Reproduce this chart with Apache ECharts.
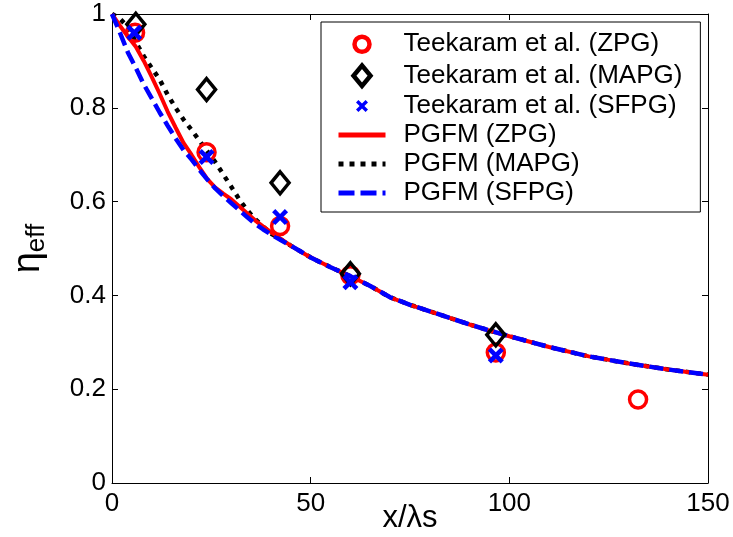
<!DOCTYPE html>
<html>
<head>
<meta charset="utf-8">
<script src="https://cdn.jsdelivr.net/npm/echarts@6/dist/echarts.min.js"></script>
<style>html,body{margin:0;padding:0;background:#fff;}#c{width:733px;height:537px;}</style>
</head>
<body>
<div id="c"></div>
<script>
// ---- data ----
var zpgPts  = [[5.8,0.96],[23.8,0.705],[42.3,0.548],[60,0.443],[96.6,0.278],[132.4,0.178]];
var mapgPts = [[6,0.978],[23.8,0.839],[42.3,0.64],[60,0.446],[96.6,0.316]];
var sfpgPts = [[5.6,0.96],[23.8,0.695],[42.3,0.567],[60,0.428],[96.6,0.272]];

var lineX    = [0,2,4,6,8,10,12,14,16,18,20,22,24,26,28,30,32,34,36,38,40,45,50,55,60,65,70,75,80,85,90,95,100,110,120,130,140,150];
var pgfmZpg  = [1,0.975,0.952,0.93,0.9,0.866,0.83,0.792,0.758,0.725,0.70,0.673,0.648,0.63,0.617,0.605,0.59,0.575,0.56,0.547,0.535,0.506,0.481,0.46,0.441,0.42,0.396,0.38,0.366,0.352,0.338,0.325,0.313,0.29,0.27,0.255,0.242,0.231];
var pgfmMapg = [1,0.99,0.972,0.94,0.91,0.885,0.86,0.828,0.80,0.775,0.753,0.73,0.707,0.684,0.658,0.632,0.605,0.582,0.563,0.547,0.532,0.506,0.481,0.46,0.441,0.42,0.396,0.38,0.366,0.352,0.338,0.325,0.313,0.29,0.27,0.255,0.242,0.231];
var pgfmSfpg = [1,0.96,0.918,0.885,0.85,0.82,0.79,0.762,0.735,0.71,0.69,0.668,0.647,0.628,0.612,0.597,0.582,0.567,0.553,0.541,0.53,0.506,0.481,0.46,0.441,0.42,0.396,0.38,0.366,0.352,0.338,0.325,0.313,0.29,0.27,0.255,0.242,0.231];

var seriesNames = ['Teekaram et al. (ZPG)','Teekaram et al. (MAPG)','Teekaram et al. (SFPG)','PGFM (ZPG)','PGFM (MAPG)','PGFM (SFPG)'];
var xTicks = [0,50,100,150];
var yTicks = [0,0.2,0.4,0.6,0.8,1];

function zip(xs, ys){ return xs.map(function(x,i){ return [x, ys[i]]; }); }

var FONT = 'Liberation Sans, Arial, sans-serif';
var xMark = 'path://M2,0 L5,3 L8,0 L10,2 L7,5 L10,8 L8,10 L5,7 L2,10 L0,8 L3,5 L0,2 Z';
// legend icons (padded to a 24x24 box so they keep their size)
var circleIcon  = 'path://M0,0 M24,24 M4.5,12 A7.5,7.5 0 1 1 19.5,12 A7.5,7.5 0 1 1 4.5,12 Z';
var diamondIcon = 'path://M0,0 M24,24 M12,1.8 L20.5,12 L12,22.2 L3.5,12 Z';
var xIcon = 'path://M0,0 M24,24 M8.4,6 L12,9.6 L15.6,6 L18,8.4 L14.4,12 L18,15.6 L15.6,18 L12,14.4 L8.4,18 L6,15.6 L9.6,12 L6,8.4 Z';

function axisCommon(){
  return {
    axisLine:{show:true, onZero:false, lineStyle:{color:'#000', width:1}},
    axisTick:{show:true, inside:true, length:6, lineStyle:{color:'#000', width:1}},
    splitLine:{show:false}
  };
}
var noSym = {color:'rgba(0,0,0,0)', borderColor:'rgba(0,0,0,0)', borderWidth:0};

var chart = echarts.init(document.getElementById('c'), null, {renderer:'canvas'});
chart.setOption({
  backgroundColor:'#fff',
  animation:false,
  grid:{left:112, right:25, top:14, bottom:54, containLabel:false, outerBoundsMode:'none'},
  legend:{
    orient:'vertical', left:321, top:22,
    backgroundColor:'#fff', borderColor:'#000', borderWidth:1, borderRadius:0,
    padding:[8,18,6,15], itemGap:3, itemWidth:47, itemHeight:24,
    textStyle:{fontFamily:FONT, fontSize:26, color:'#000', padding:[0,0,0,13]},
    data:[
      {name:seriesNames[0], icon:circleIcon, itemStyle:{color:'rgba(0,0,0,0)', borderColor:'#ff0000', borderWidth:4.5}},
      {name:seriesNames[1], icon:diamondIcon, itemStyle:{color:'rgba(0,0,0,0)', borderColor:'#000', borderWidth:4.5}},
      {name:seriesNames[2], icon:xIcon, itemStyle:{color:'#0000ff', borderWidth:0}},
      {name:seriesNames[3], itemStyle:noSym, lineStyle:{width:5}},
      {name:seriesNames[4], itemStyle:noSym, lineStyle:{width:5, type:[5,6]}},
      {name:seriesNames[5], itemStyle:noSym, lineStyle:{width:5, type:[16,6]}}
    ]
  },
  xAxis:[
    Object.assign({type:'value', min:0, max:150, interval:50, position:'bottom',
      name:'x/λs', nameLocation:'middle', nameGap:20, nameMoveOverlap:false,
      nameTextStyle:{fontFamily:FONT, fontSize:31, color:'#000'},
      axisLabel:{fontFamily:FONT, fontSize:26, color:'#000', margin:8}}, axisCommon()),
    Object.assign({type:'value', min:0, max:150, interval:50, position:'top',
      axisLabel:{show:false}}, axisCommon())
  ],
  yAxis:[
    Object.assign({type:'value', min:0, max:1, interval:0.2, position:'left',
      name:'{a|η}{b|eff}', nameLocation:'middle', nameGap:62, nameRotate:90, nameMoveOverlap:false,
      nameTextStyle:{fontFamily:FONT, color:'#000',
        rich:{a:{fontFamily:FONT, fontSize:38, color:'#000'},
              b:{fontFamily:FONT, fontSize:26, color:'#000', padding:[16,0,0,0]}}},
      axisLabel:{fontFamily:FONT, fontSize:26, color:'#000', margin:6,
        formatter:function(v){ return String(Math.round(v*10)/10); }}}, axisCommon()),
    Object.assign({type:'value', min:0, max:1, interval:0.2, position:'right',
      axisLabel:{show:false}}, axisCommon())
  ],
  series:[
    {name:seriesNames[0], type:'scatter', data:zpgPts, symbol:'circle', symbolSize:17, z:5,
      itemStyle:{color:'rgba(255,255,255,0)', borderColor:'#ff0000', borderWidth:3.5, opacity:1}},
    {name:seriesNames[1], type:'scatter', data:mapgPts, symbol:'diamond', symbolSize:[18,22], z:5,
      itemStyle:{color:'rgba(255,255,255,0)', borderColor:'#000', borderWidth:3.5, opacity:1}},
    {name:seriesNames[2], type:'scatter', data:sfpgPts, symbol:xMark, symbolSize:16, z:6,
      itemStyle:{color:'#0000ff', opacity:1}},
    {name:seriesNames[3], type:'line', data:zip(lineX,pgfmZpg), symbol:'none', smooth:false, z:3,
      itemStyle:{color:'#ff0000'}, lineStyle:{color:'#ff0000', width:4, type:'solid'}},
    {name:seriesNames[4], type:'line', data:zip(lineX,pgfmMapg), symbol:'none', smooth:false, z:2,
      itemStyle:{color:'#000'}, lineStyle:{color:'#000', width:4.5, type:[4.5,6]}},
    {name:seriesNames[5], type:'line', data:zip(lineX,pgfmSfpg), symbol:'none', smooth:false, z:4,
      itemStyle:{color:'#0000ff'}, lineStyle:{color:'#0000ff', width:4.5, type:[14,6]}}
  ]
});
</script>
</body>
</html>
